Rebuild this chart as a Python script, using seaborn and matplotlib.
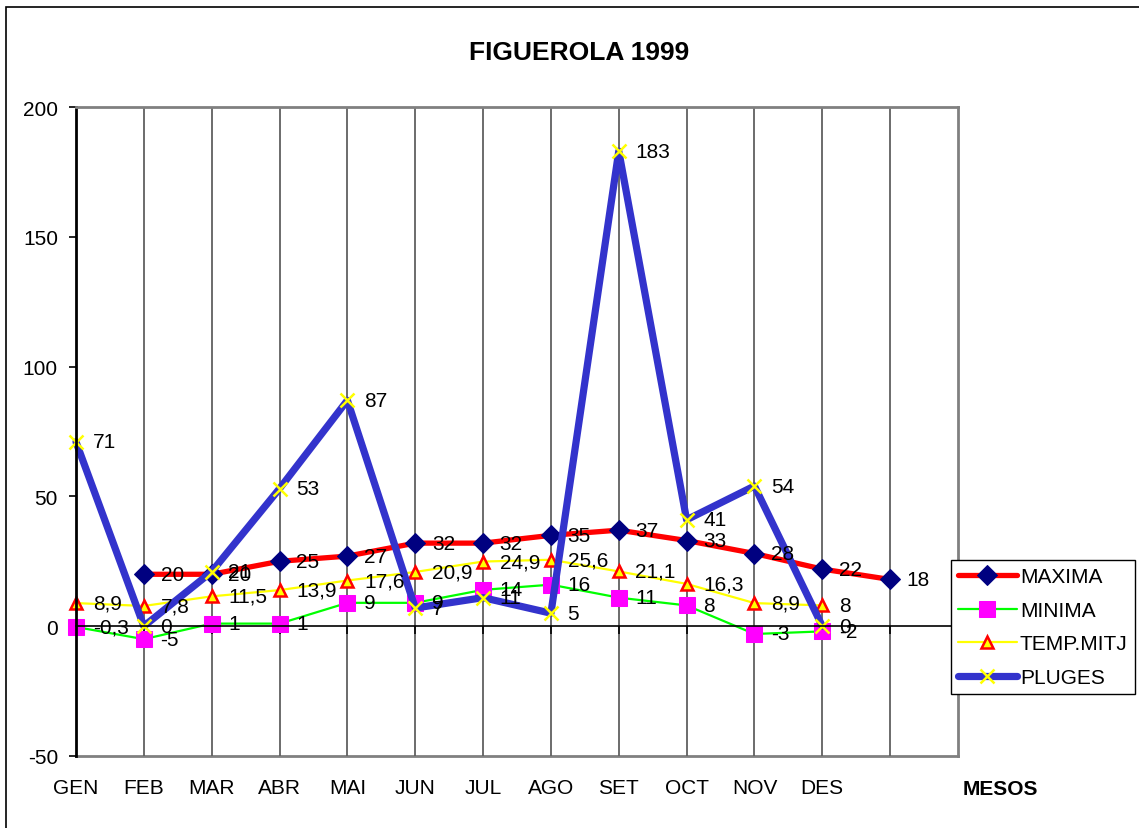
import numpy as np
import pandas as pd
import matplotlib
matplotlib.use("Agg")
import matplotlib.pyplot as plt
import seaborn as sns
from matplotlib.patches import Rectangle

# data
mesos = ["GEN", "FEB", "MAR", "ABR", "MAI", "JUN", "JUL", "AGO", "SET", "OCT", "NOV", "DES", ""]
maxima = [np.nan, 20, 20, 25, 27, 32, 32, 35, 37, 33, 28, 22, 18]
minima = [-0.3, -5, 1, 1, 9, 9, 14, 16, 11, 8, -3, -2, np.nan]
temp_mitj = [8.9, 7.8, 11.5, 13.9, 17.6, 20.9, 24.9, 25.6, 21.1, 16.3, 8.9, 8, np.nan]
pluges = [71, 0, 21, 53, 87, 7, 11, 5, 183, 41, 54, 0, np.nan]

sns.set_style("white")
plt.rcParams["font.family"] = ["Liberation Sans", "DejaVu Sans"]
plt.rcParams["axes.unicode_minus"] = False
for k in ["text.color", "axes.labelcolor", "xtick.color", "ytick.color"]:
    plt.rcParams[k] = "black"

fig = plt.figure(figsize=(11.39, 8.29), dpi=100)
ax = fig.add_axes([76 / 1139, 1 - 757 / 829, (958 - 76) / 1139, (757 - 108) / 829])

pos = np.arange(len(mesos))
df = pd.DataFrame({"pos": pos, "MAXIMA": maxima, "MINIMA": minima,
                   "TEMP.MITJ": temp_mitj, "PLUGES": pluges})

styles = {
    "MAXIMA": dict(color="#FF0000", linewidth=3.8, marker="D", markersize=10,
                   markerfacecolor="#000080", markeredgecolor="#000080"),
    "MINIMA": dict(color="#00FF00", linewidth=1.6, marker="s", markersize=11,
                   markerfacecolor="#FF00FF", markeredgecolor="#FF00FF"),
    "TEMP.MITJ": dict(color="#FFFF00", linewidth=1.6, marker="^", markersize=9,
                      markerfacecolor="#FFFF00", markeredgecolor="#FF0000",
                      markeredgewidth=1.8),
    "PLUGES": dict(color="#3333CC", linewidth=5.2, marker="x", markersize=10,
                   markeredgecolor="#FFFF00", markeredgewidth=1.8),
}

for name, st in styles.items():
    sns.lineplot(data=df, x="pos", y=name, ax=ax, label=name, clip_on=False, **st)
    for x, v in zip(df["pos"], df[name]):
        if np.isnan(v):
            continue
        txt = str(int(v)) if float(v).is_integer() else f"{v:.1f}".replace(".", ",")
        ax.annotate(txt, (x, v), xytext=(12, 0), textcoords="offset points",
                    va="center", ha="left", fontsize=15, color="black")

ax.set_xlim(0, 13)
ax.set_ylim(-50, 200)
ax.set_yticks(range(-50, 201, 50))
ax.set_xticks(pos)
ax.set_xticklabels([])
ax.set_xlabel("")
ax.set_ylabel("")

# frame
for s in ["top", "right"]:
    ax.spines[s].set_color("#808080")
    ax.spines[s].set_linewidth(2)
ax.spines["left"].set_color("black")
ax.spines["left"].set_linewidth(2)
ax.spines["bottom"].set_position(("data", 0))
ax.spines["bottom"].set_color("black")
ax.spines["bottom"].set_linewidth(1.2)
ax.tick_params(axis="x", bottom=True, direction="out", length=6, width=1.2, color="black")
ax.tick_params(axis="y", left=True, direction="out", length=5, width=1.2, pad=8,
               labelsize=15, color="black")
ax.xaxis.grid(True, color="#606060", linewidth=1.3)
ax.yaxis.grid(False)

sec = ax.secondary_xaxis("bottom")
sec.set_xticks(pos)
sec.set_xticklabels(mesos)
sec.tick_params(length=0, pad=16, labelsize=15)
sec.spines["bottom"].set_color("#808080")
sec.spines["bottom"].set_linewidth(2)

leg = ax.legend(loc="upper left", bbox_to_anchor=(951 / 1139, 1 - 561 / 829),
                bbox_transform=fig.transFigure, borderaxespad=0, fontsize=15,
                frameon=True, fancybox=False, edgecolor="black", framealpha=1,
                handlelength=2.8, handletextpad=0.15, labelspacing=0.7,
                borderpad=0.35)
leg.get_frame().set_linewidth(1)

fig.text(579 / 1139, 1 - 53 / 829, "FIGUEROLA 1999", ha="center", va="center",
         fontsize=19, fontweight="bold")
fig.text(1000 / 1139, 1 - 790 / 829, "MESOS", ha="center", va="center",
         fontsize=15, fontweight="bold")

fig.patches.append(Rectangle((6 / 1139, -0.1), 2, 1.1 - 8 / 829, transform=fig.transFigure,
                             fill=False, edgecolor="black", linewidth=1.2))

fig.savefig("out.png", dpi=100)
